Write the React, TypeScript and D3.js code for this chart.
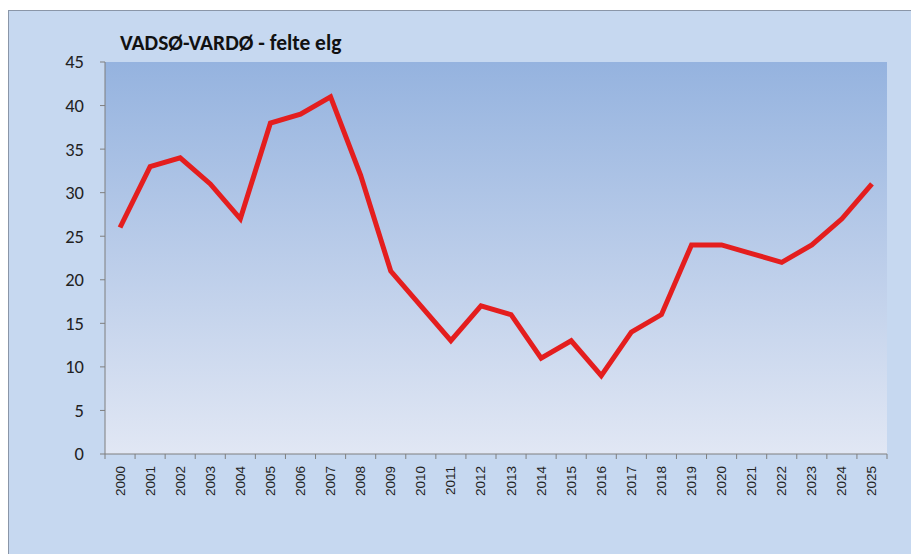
import React from "react";
import * as d3 from "d3";

const years: string[] = [
  "2000","2001","2002","2003","2004","2005","2006","2007","2008","2009",
  "2010","2011","2012","2013","2014","2015","2016","2017","2018","2019",
  "2020","2021","2022","2023","2024","2025",
];
const felteElg: number[] = [
  26, 33, 34, 31, 27, 38, 39, 41, 32, 21,
  17, 13, 17, 16, 11, 13, 9, 14, 16, 24,
  24, 23, 22, 24, 27, 31,
];
const yTicks: number[] = [0, 5, 10, 15, 20, 25, 30, 35, 40, 45];
const title = "VADSØ-VARDØ - felte elg";

export default function App() {
  const W = 911, H = 554;
  const left = 105, right = 887, top = 62, bottom = 454;
  const x = d3.scaleBand<string>().domain(years).range([left, right]);
  const y = d3.scaleLinear().domain([0, 45]).range([bottom, top]);
  const line = d3
    .line<number>()
    .x((_, i) => (x(years[i]) as number) + x.bandwidth() / 2)
    .y((d) => y(d));
  const font = "Calibri, Carlito, 'Open Sans', 'Liberation Sans', sans-serif";
  const step = x.step();
  return (
    <svg
      width={W}
      height={H}
      style={{ position: "absolute", left: 0, top: 0 }}
    >
      <defs>
        <linearGradient id="plotGrad" x1="0" y1="0" x2="0" y2="1">
          <stop offset="0" stopColor="#95b3df" />
          <stop offset="1" stopColor="#e1e7f4" />
        </linearGradient>
      </defs>
      <rect x={0} y={0} width={W} height={H} fill="#ffffff" />
      <rect
        x={8.5}
        y={10.5}
        width={W}
        height={H}
        fill="#c6d8f0"
        stroke="#8a96a8"
        strokeWidth={1}
      />
      <rect
        x={left}
        y={top}
        width={right - left}
        height={bottom - top}
        fill="url(#plotGrad)"
      />
      <text
        x={120}
        y={50}
        fontFamily={font}
        fontWeight="bold"
        fontSize={21.5}
        fill="#111"
      >
        {title}
      </text>
      {/* y axis */}
      <line x1={left} x2={left} y1={top} y2={bottom} stroke="#7f7f7f" />
      {yTicks.map((t) => (
        <g key={t}>
          <line
            x1={left - 5}
            x2={left}
            y1={y(t)}
            y2={y(t)}
            stroke="#7f7f7f"
          />
          <text
            x={84}
            y={y(t)}
            dy="0.35em"
            textAnchor="end"
            fontFamily={font}
            fontSize={18.5}
            fill="#222"
          >
            {t}
          </text>
        </g>
      ))}
      {/* x axis */}
      <line x1={left} x2={right} y1={bottom} y2={bottom} stroke="#7f7f7f" />
      {d3.range(years.length + 1).map((i) => (
        <line
          key={i}
          x1={left + i * step}
          x2={left + i * step}
          y1={bottom}
          y2={bottom + 5}
          stroke="#7f7f7f"
        />
      ))}
      {years.map((yr) => {
        const cx = (x(yr) as number) + x.bandwidth() / 2;
        return (
          <text
            key={yr}
            transform={`translate(${cx + 4.5},${466}) rotate(-90)`}
            textAnchor="end"
            fontFamily="'Liberation Sans', Arial, sans-serif"
            fontSize={13.5}
            fill="#222"
          >
            {yr}
          </text>
        );
      })}
      <path
        d={line(felteElg) || ""}
        fill="none"
        stroke="#e41e1e"
        strokeWidth={5}
        strokeLinejoin="miter"
      />
    </svg>
  );
}
